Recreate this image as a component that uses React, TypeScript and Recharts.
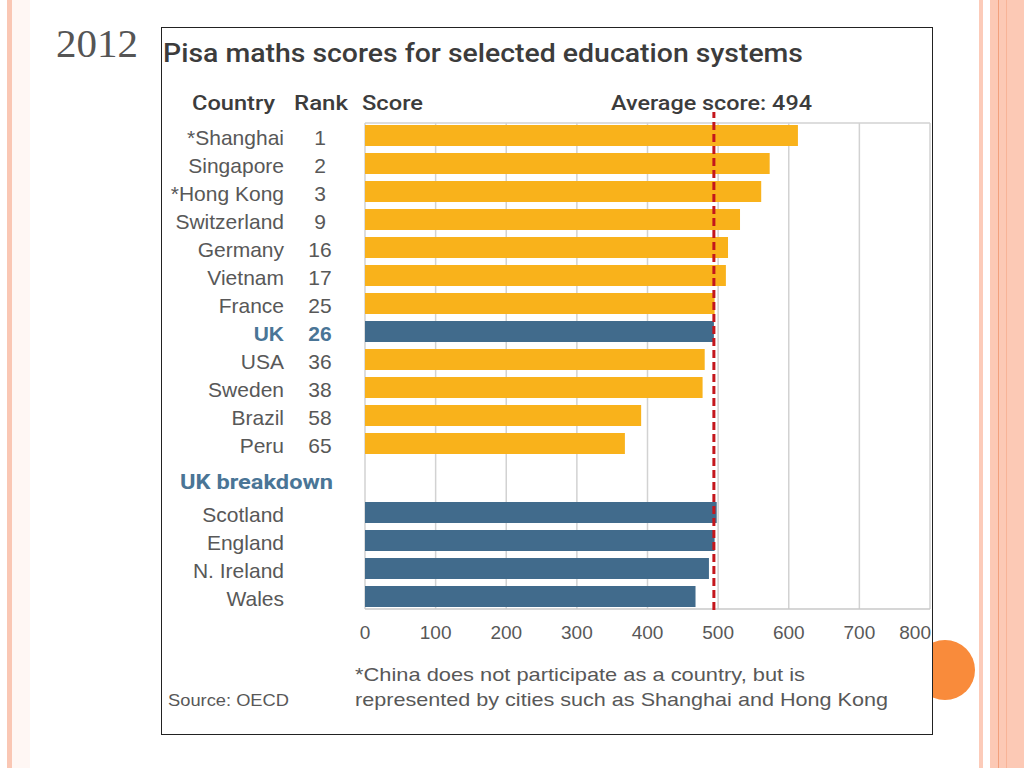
import React from "react";
import { BarChart, Bar, XAxis, YAxis, CartesianGrid, ReferenceLine, Cell } from "recharts";

// ---------- data ----------
const countries = ["*Shanghai", "Singapore", "*Hong Kong", "Switzerland", "Germany", "Vietnam", "France", "UK", "USA", "Sweden", "Brazil", "Peru"];
const ranks = [1, 2, 3, 9, 16, 17, 25, 26, 36, 38, 58, 65];
const scores = [613, 573, 561, 531, 514, 511, 495, 494, 481, 478, 391, 368];
const ukRegions = ["Scotland", "England", "N. Ireland", "Wales"];
const ukScores = [498, 495, 487, 468];
const averageScore = 494;
const xTicks = [0, 100, 200, 300, 400, 500, 600, 700, 800];
const highlighted = "UK";

// ---------- style ----------
const ORANGE = "#F9B21B";
const BLUE = "#416B8C";
const BLUE_TEXT = "#4A7596";
const GRAY = "#585858";
const DARK = "#3c3c3c";
const RED = "#C4161C";
const SANS = "'Liberation Sans', Arial, sans-serif";
const HEAD = "Roboto, 'Liberation Sans', sans-serif";

const W = 1024;
const H = 768;
const PLOT_LEFT = 365;
const PLOT_RIGHT = 94;

const countryData = countries.map((name, i) => ({ name, score: scores[i], rank: ranks[i] }));
const ukData = ukRegions.map((name, i) => ({ name, score: ukScores[i] }));

function CountryTick(props: any) {
  const { y, payload } = props;
  const name = payload.value;
  const idx = countries.indexOf(name);
  const isHi = name === highlighted;
  const fill = isHi ? BLUE_TEXT : GRAY;
  const weight = isHi ? "bold" : "normal";
  const ty = y + 3;
  return (
    <g>
      <text x={284} y={ty} dy="0.35em" textAnchor="end" fontSize={21} fontFamily={SANS} fill={fill} fontWeight={weight}>
        {name}
      </text>
      {idx >= 0 && (
        <text x={320} y={ty} dy="0.35em" textAnchor="middle" fontSize={21} fontFamily={SANS} fill={fill} fontWeight={weight}>
          {ranks[idx]}
        </text>
      )}
    </g>
  );
}

function XTick(props: any) {
  const { x, payload } = props;
  const last = payload.value === xTicks[xTicks.length - 1];
  return (
    <text x={last ? x + 1 : x} y={639} textAnchor={last ? "end" : "middle"} fontSize={19} fontFamily={SANS} fill={GRAY}>
      {payload.value}
    </text>
  );
}

const layer: React.CSSProperties = { position: "absolute", left: 0, top: 0 };

export default function App() {
  return (
    <div style={{ position: "absolute", left: 0, top: 0, width: W, height: H, background: "#fff", overflow: "hidden" }}>
      {/* slide decoration and texts */}
      <svg width={W} height={H} style={layer}>
        <rect x={7} y={0} width={5} height={H} fill="#FAC7B4" />
        <rect x={12} y={0} width={18} height={H} fill="#FFF7F4" />
        <rect x={979} y={0} width={4} height={H} fill="#FCCBB9" />
        <rect x={990} y={0} width={34} height={H} fill="#FCC9B5" />
        <line x1={998.5} y1={0} x2={998.5} y2={H} stroke="#F2A07C" strokeWidth={1} />
        <line x1={1006.5} y1={0} x2={1006.5} y2={H} stroke="#F8B498" strokeWidth={1} />
        <circle cx={945} cy={670} r={30} fill="#F98B3B" />
        <rect x={161.5} y={27.5} width={771} height={707} fill="#fff" stroke="#222" strokeWidth={1} />

        <text x={56} y={57} fontSize={40} fontFamily="'Liberation Serif', serif" fill="#555" textLength={82} lengthAdjust="spacingAndGlyphs">2012</text>
        <text x={163} y={62} fontSize={25} fontWeight={500} fontFamily={HEAD} fill={DARK} textLength={640} lengthAdjust="spacingAndGlyphs">
          Pisa maths scores for selected education systems
        </text>
        <text x={192} y={110} fontSize={20} fontWeight={500} fontFamily={HEAD} fill={DARK} textLength={83} lengthAdjust="spacingAndGlyphs">Country</text>
        <text x={294} y={110} fontSize={20} fontWeight={500} fontFamily={HEAD} fill={DARK} textLength={54} lengthAdjust="spacingAndGlyphs">Rank</text>
        <text x={362} y={110} fontSize={20} fontWeight={500} fontFamily={HEAD} fill={DARK} textLength={61} lengthAdjust="spacingAndGlyphs">Score</text>
        <text x={611} y={110} fontSize={20} fontWeight={500} fontFamily={HEAD} fill={DARK} textLength={201} lengthAdjust="spacingAndGlyphs">Average score: 494</text>
        <text x={180} y={489} fontSize={20} fontWeight={700} fontFamily={HEAD} fill={BLUE_TEXT} textLength={153} lengthAdjust="spacingAndGlyphs">UK breakdown</text>
        <text x={355} y={681} fontSize={19} fontFamily={SANS} fill={GRAY} textLength={450} lengthAdjust="spacingAndGlyphs">
          *China does not participate as a country, but is
        </text>
        <text x={355} y={706} fontSize={19} fontFamily={SANS} fill={GRAY} textLength={533} lengthAdjust="spacingAndGlyphs">
          represented by cities such as Shanghai and Hong Kong
        </text>
        <text x={168} y={706} fontSize={17} fontFamily={SANS} fill={GRAY} textLength={121} lengthAdjust="spacingAndGlyphs">Source: OECD</text>
      </svg>

      {/* background grid + x axis */}
      <div style={layer}>
        <BarChart width={W} height={H} data={countryData} layout="vertical" margin={{ top: 123, right: PLOT_RIGHT, bottom: 129, left: PLOT_LEFT }}>
          <CartesianGrid
            stroke="#d2d2d2"
            strokeWidth={1.5}
            horizontalCoordinatesGenerator={(p: any) => (p && p.offset ? [p.offset.top] : [])}
          />
          <XAxis type="number" domain={[0, 800]} ticks={xTicks} height={30} axisLine={{ stroke: "#c8c8c8", strokeWidth: 1.5 }} tickLine={false} tick={<XTick />} interval={0} />
          <YAxis type="category" dataKey="name" hide />
          <Bar dataKey="score" fill="none" fillOpacity={0} isAnimationActive={false} />
        </BarChart>
      </div>

      {/* countries */}
      <div style={layer}>
        <BarChart width={W} height={H} data={countryData} layout="vertical" margin={{ top: 121, right: PLOT_RIGHT, bottom: 311, left: PLOT_LEFT - 200 }}>
          <XAxis type="number" domain={[0, 800]} hide />
          <YAxis type="category" dataKey="name" width={200} axisLine={false} tickLine={false} tick={<CountryTick />} interval={0} />
          <Bar dataKey="score" barSize={21} isAnimationActive={false}>
            {countryData.map((d) => (
              <Cell key={d.name} fill={d.name === highlighted ? BLUE : ORANGE} />
            ))}
          </Bar>
        </BarChart>
      </div>

      {/* UK breakdown */}
      <div style={layer}>
        <BarChart width={W} height={H} data={ukData} layout="vertical" margin={{ top: 498, right: PLOT_RIGHT, bottom: 158, left: PLOT_LEFT - 200 }}>
          <XAxis type="number" domain={[0, 800]} hide />
          <YAxis type="category" dataKey="name" width={200} axisLine={false} tickLine={false} tick={<CountryTick />} interval={0} />
          <Bar dataKey="score" barSize={21} fill={BLUE} isAnimationActive={false} />
        </BarChart>
      </div>

      {/* average line on top */}
      <div style={layer}>
        <BarChart width={W} height={H} data={countryData} layout="vertical" margin={{ top: 112, right: PLOT_RIGHT, bottom: 158, left: PLOT_LEFT }}>
          <XAxis type="number" domain={[0, 800]} hide />
          <YAxis type="category" dataKey="name" hide />
          <Bar dataKey="score" fill="none" fillOpacity={0} isAnimationActive={false} />
          <ReferenceLine x={averageScore} stroke={RED} strokeWidth={3} strokeDasharray="8 4" />
        </BarChart>
      </div>
    </div>
  );
}
